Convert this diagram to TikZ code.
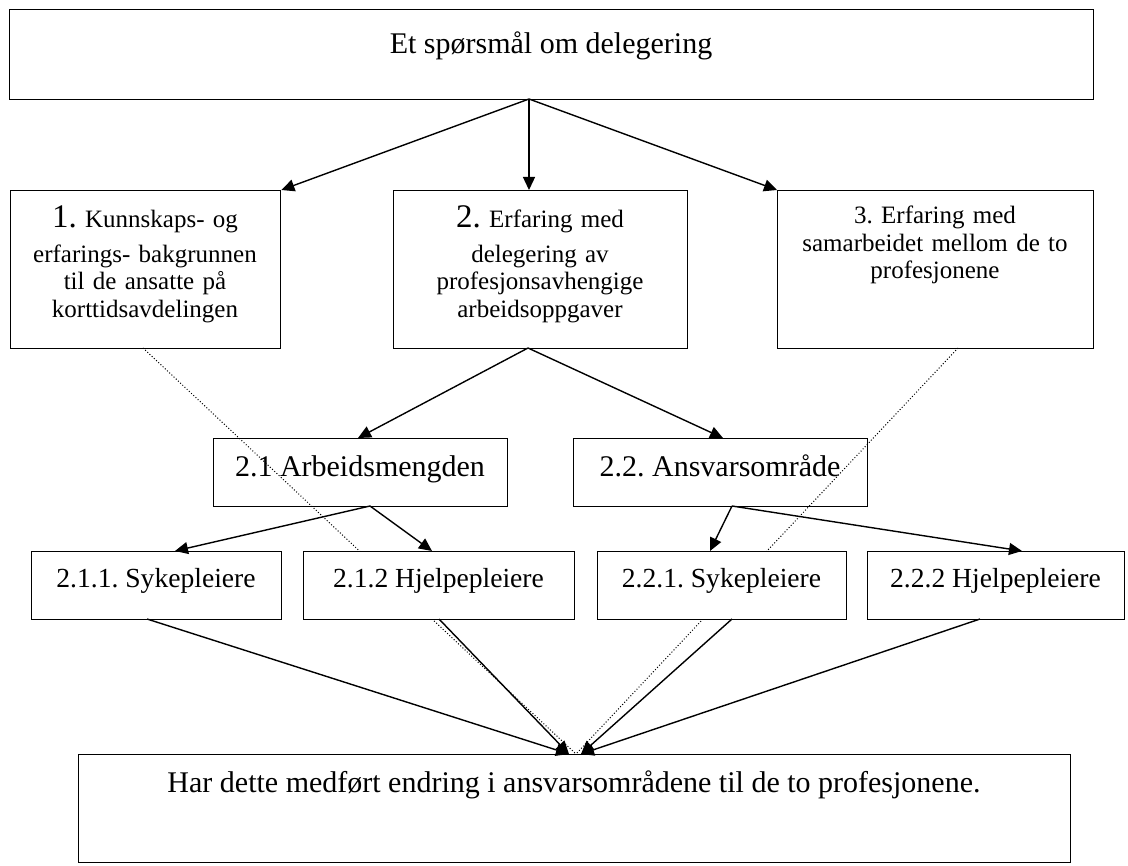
\documentclass[tikz,border=0pt]{standalone}
\usepackage{fontspec}
\setmainfont{Liberation Serif}
\usetikzlibrary{arrows.meta}
\frenchspacing
\begin{document}
\begin{tikzpicture}[x=1pt,y=-1pt,
  box/.style={draw,line width=1.4pt,fill=white,inner sep=0pt,anchor=north west},
  ft/.style={font=\fontsize{25}{27.5}\selectfont},
  fb/.style={font=\fontsize{30}{33}\selectfont},
  fm/.style={font=\fontsize{27.6}{30}\selectfont},
  lbl/.style={inner sep=0pt,anchor=base,align=center},
  arr/.style={line width=1.4pt,-{Triangle[length=13pt,width=12pt]}},
  dotline/.style={line width=1pt,dash pattern=on 1pt off 2pt},
]
\useasboundingbox (0,0) rectangle (1128,866);
% top level
\node[box,minimum width=1084pt,minimum height=90pt] (top) at (9,9) {};
\node[lbl,fb] (topt) at (551,54) {Et spørsmål om delegering};
% second level
\node[box,minimum width=270pt,minimum height=158pt] (b1) at (10,190) {};
\node[lbl,ft,text width=255pt] (b1t) at (145,228) {{\fontsize{33}{33}\selectfont 1.} Kunnskaps- og\\[7pt] erfarings- bakgrunnen\\ til de ansatte på\\ korttidsavdelingen};
\node[box,minimum width=294pt,minimum height=158pt] (b2) at (393,190) {};
\node[lbl,ft,text width=280pt] (b2t) at (540,228) {{\fontsize{33}{33}\selectfont 2.} Erfaring med\\[7pt] delegering av\\ profesjonsavhengige\\ arbeidsoppgaver};
\node[box,minimum width=316pt,minimum height=158pt] (b3) at (777,190) {};
\node[lbl,ft,text width=300pt] (b3t) at (935,224) {3. Erfaring med\\ samarbeidet mellom de to\\ profesjonene};
% third level
\node[box,minimum width=294pt,minimum height=68pt] (s21) at (213,438) {};
\node[lbl,fb] (s21t) at (360,477) {2.1 Arbeidsmengden};
\node[box,minimum width=294pt,minimum height=68pt] (s22) at (573,438) {};
\node[lbl,fb] (s22t) at (720,477) {2.2. Ansvarsområde};
% bottom box
\node[box,minimum width=992pt,minimum height=108pt] (bot) at (78,754) {};
\node[lbl,fb] (bott) at (574,792) {Har dette medført endring i ansvarsområdene til de to profesjonene.};
% ports
\coordinate (b1S) at (143,348);
\coordinate (b3S) at (958,348);
\coordinate (endD) at (576,754);
% dotted connectors (over level three, under level four)
\draw[dotline] (b1S) -- (endD);
\draw[dotline] (b3S) -- (endD);
% fourth level
\node[box,minimum width=250pt,minimum height=68pt] (s211) at (31,551) {};
\node[lbl,fm] (s211t) at (156,587) {2.1.1. Sykepleiere};
\node[box,minimum width=271pt,minimum height=68pt] (s212) at (303,551) {};
\node[lbl,fm] (s212t) at (438.5,587) {2.1.2 Hjelpepleiere};
\node[box,minimum width=249pt,minimum height=68pt] (s221) at (597,551) {};
\node[lbl,fm] (s221t) at (721.5,587) {2.2.1. Sykepleiere};
\node[box,minimum width=257pt,minimum height=68pt] (s222) at (867,551) {};
\node[lbl,fm] (s222t) at (995.5,587) {2.2.2 Hjelpepleiere};
% connector ports
\coordinate (topS) at (529,99);
\coordinate (b2N) at (529,190);
\coordinate (b2S) at (528,348);
\coordinate (s21N) at (358,438);
\coordinate (s22N) at (723,438);
\coordinate (s21S) at (370,506);
\coordinate (s22S) at (732,506);
\coordinate (s211N) at (175,551);
\coordinate (s212N) at (432,551);
\coordinate (s221N) at (710,551);
\coordinate (s222N) at (1022,551);
\coordinate (s211S) at (147,619);
\coordinate (s212S) at (439,619);
\coordinate (s221S) at (732,619);
\coordinate (s222S) at (980,619);
\coordinate (endL) at (569,754);
\coordinate (endR) at (581,754);
% solid connectors
\draw[arr] (topS) -- (b1.north east);
\draw[arr] (topS) -- (b2N);
\draw[arr] (topS) -- (b3.north west);
\draw[arr] (b2S) -- (s21N);
\draw[arr] (b2S) -- (s22N);
\draw[arr] (s21S) -- (s211N);
\draw[arr] (s21S) -- (s212N);
\draw[arr] (s22S) -- (s221N);
\draw[arr] (s22S) -- (s222N);
\draw[arr] (s211S) -- (endL);
\draw[arr] (s212S) -- (endL);
\draw[arr] (s221S) -- (endR);
\draw[arr] (s222S) -- (endR);
\end{tikzpicture}
\end{document}
